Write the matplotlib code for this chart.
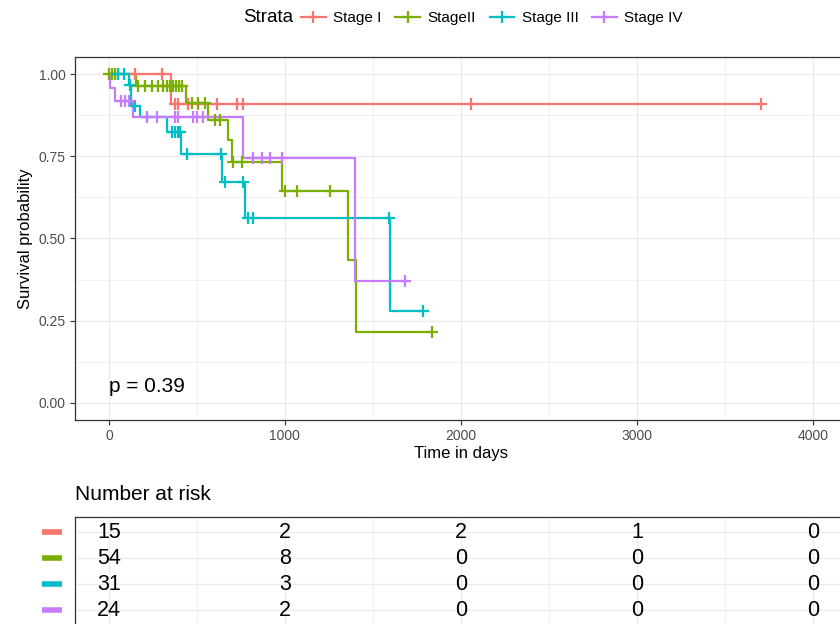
import numpy as np
import matplotlib
matplotlib.use("Agg")
import matplotlib.pyplot as plt
from matplotlib.lines import Line2D

plt.rcParams['font.family'] = ['Liberation Sans', 'DejaVu Sans']

# strata, colours (ggplot hue palette)
strata = ["Stage I", "StageII", "Stage III", "Stage IV"]
colors = ["#F8766D", "#7CAE00", "#00BFC4", "#C77CFF"]

# Kaplan-Meier steps: drop times (days) and survival after each drop
stage1_drops = [352]
stage1_surv = [0.909]
stage1_cens = [148, 301, 375, 392, 449, 506, 614, 727, 761, 2057, 3705]

stage2_drops = [153, 437, 562, 676, 699, 983, 1358, 1403]
stage2_surv = [0.963, 0.911, 0.860, 0.800, 0.732, 0.644, 0.435, 0.217]
stage2_cens = [3, 17, 34, 165, 205, 244, 278, 307, 330, 347, 364, 381, 398, 415,
               472, 506, 545, 602, 631, 705, 756, 1000, 1068, 1256, 1835]

stage3_drops = [113, 125, 176, 330, 409, 642, 773, 1597]
stage3_surv = [0.968, 0.903, 0.871, 0.824, 0.757, 0.672, 0.562, 0.281]
stage3_cens = [51, 85, 119, 148, 216, 358, 375, 392, 403, 443, 636, 659, 761,
               790, 818, 1591, 1784]

stage4_drops = [6, 34, 136, 761, 1398]
stage4_surv = [0.958, 0.917, 0.868, 0.745, 0.372]
stage4_cens = [68, 91, 114, 216, 273, 375, 392, 477, 500, 534, 818, 869, 915, 983, 1682]

# number at risk table
risk_times = [0, 1000, 2000, 3000, 4000]
risk_stage1 = [15, 2, 2, 1, 0]
risk_stage2 = [54, 8, 0, 0, 0]
risk_stage3 = [31, 3, 0, 0, 0]
risk_stage4 = [24, 2, 0, 0, 0]

p_label = "p = 0.39"

all_drops = [stage1_drops, stage2_drops, stage3_drops, stage4_drops]
all_surv = [stage1_surv, stage2_surv, stage3_surv, stage4_surv]
all_cens = [stage1_cens, stage2_cens, stage3_cens, stage4_cens]
all_risk = [risk_stage1, risk_stage2, risk_stage3, risk_stage4]

W, H = 840, 624
fig = plt.figure(figsize=(W / 100, H / 100), dpi=100)

xlim = (-193, 4200)
grid_col = "#EBEBEB"
dark = "#333333"

# main survival panel
ax = fig.add_axes([75 / W, (H - 420) / H, 773 / W, 363 / H])
ax.set_xlim(*xlim)
ax.set_ylim(-0.052, 1.052)

for g in range(4):
    drops = np.array(all_drops[g])
    levels = np.array([1.0] + all_surv[g])
    end = max(max(all_cens[g]), drops.max())
    xs = np.concatenate([[0], drops, [end]])
    ys = np.concatenate([levels, [levels[-1]]])
    ax.step(xs, ys, where="post", color=colors[g], lw=1.6, zorder=3)
    cens = np.array(all_cens[g])
    cy = levels[np.searchsorted(drops, cens, side="right")]
    ax.plot(cens, cy, ls="none", marker="+", ms=9, mew=1.6, color=colors[g], zorder=4)

ax.set_xticks([0, 1000, 2000, 3000, 4000])
ax.set_xticks([500, 1500, 2500, 3500], minor=True)
ax.set_yticks([0, 0.25, 0.5, 0.75, 1.0])
ax.set_yticks([0.125, 0.375, 0.625, 0.875], minor=True)
ax.set_yticklabels(["0.00", "0.25", "0.50", "0.75", "1.00"])
ax.grid(which="major", color=grid_col, lw=0.9, zorder=0)
ax.grid(which="minor", color=grid_col, lw=0.5, zorder=0)
ax.set_axisbelow(True)
ax.tick_params(which="major", length=3.5, width=0.8, color=dark, labelsize=10,
               labelcolor="#4D4D4D", pad=3)
ax.tick_params(which="minor", length=0)
for s in ax.spines.values():
    s.set_color(dark)
    s.set_linewidth(0.9)
ax.set_xlabel("Time in days", fontsize=12, color="black", labelpad=2)
ax.set_ylabel("Survival probability", fontsize=12, color="black", labelpad=4)
ax.text(0, 0.05, p_label, fontsize=15, va="center", ha="left")

# legend on top
handles = [Line2D([], [], color=c, lw=1.6, marker="+", ms=9, mew=1.6) for c in colors]
fig.legend(handles, strata, loc="center", bbox_to_anchor=(492 / W, 1 - 18 / H), ncol=4,
           frameon=False, fontsize=11, handlelength=1.6, handletextpad=0.5,
           columnspacing=0.9)
fig.text(243 / W, 1 - 18 / H, "Strata", fontsize=13.5, va="center", ha="left")

# risk table
ax2 = fig.add_axes([75 / W, (H - 626) / H, 773 / W, 109 / H])
ax2.set_xlim(*xlim)
ax2.set_ylim(0.385, 4.577)
ax2.set_xticks([0, 1000, 2000, 3000, 4000])
ax2.set_xticks([500, 1500, 2500, 3500], minor=True)
ax2.set_yticks([1, 2, 3, 4])
ax2.grid(which="major", color=grid_col, lw=0.9, zorder=0)
ax2.grid(which="minor", axis="x", color=grid_col, lw=0.5, zorder=0)
ax2.tick_params(which="both", length=0, labelbottom=False, labelleft=False)
for s in ax2.spines.values():
    s.set_color(dark)
    s.set_linewidth(0.9)
for g in range(4):
    row = 4 - g
    for t, n in zip(risk_times, all_risk[g]):
        ax2.text(t, row, str(n), fontsize=15.5, ha="center", va="center")
    ax2.plot([-0.0427, -0.0168], [row, row], color=colors[g], lw=4,
             transform=ax2.get_yaxis_transform(), clip_on=False, solid_capstyle="butt")
fig.text(75 / W, 1 - 495 / H, "Number at risk", fontsize=15, va="center", ha="left")

fig.savefig("out.png", dpi=100)
